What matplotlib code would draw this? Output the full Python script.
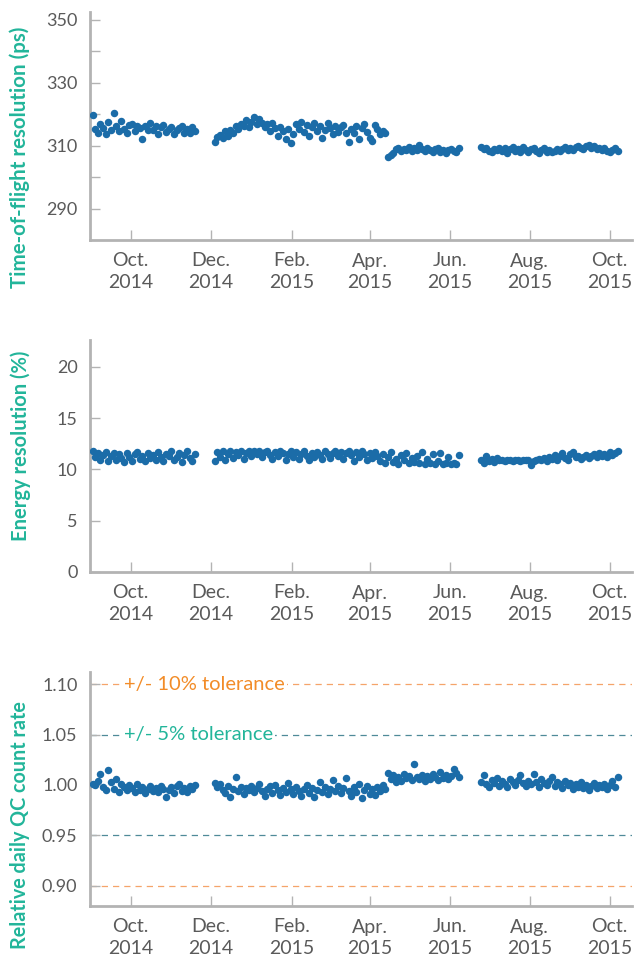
import matplotlib
matplotlib.use("Agg")
import matplotlib.pyplot as plt
import pandas as pd

# ---------------- data ----------------
seg_starts = {"A": "2014-09-02", "B": "2014-12-04", "B2": "2015-04-15", "C": "2015-06-25"}

tof_A = [319.6, 315.2, 314.0, 316.8, 315.5, 313.8, 317.4, 315.0, 320.4, 316.2,
         314.6, 317.8, 315.3, 313.9, 316.5, 316.9, 314.8, 316.2, 315.7, 312.2,
         316.4, 314.9, 317.2, 315.0, 316.1, 313.6, 315.8, 316.7, 314.2, 315.4,
         316.0, 313.8, 314.9, 315.6, 316.4, 314.1, 315.2, 313.9, 315.8, 314.6]
tof_B = [311.2, 312.8, 313.5, 312.4, 314.6, 313.2, 315.1, 314.0, 316.2,
         315.4, 317.0, 316.3, 318.1, 315.8, 317.6, 319.0, 316.9, 318.4, 317.2,
         315.9, 316.8, 314.7, 317.3, 315.6, 313.2, 316.0, 314.8, 312.1, 315.3,
         311.0, 313.6, 316.8, 315.2, 317.6, 314.3, 316.5, 313.0, 315.8, 317.1,
         314.6, 316.2, 312.4, 315.0, 317.3, 315.5, 313.8, 316.4, 314.2, 315.9,
         316.6, 313.9, 311.2, 315.2, 314.0, 316.3, 312.0, 315.6, 317.0, 314.4,
         312.5, 311.5, 316.5, 315.2, 313.6, 314.8, 314.1]
tof_B2 = [306.4, 306.9, 307.6, 308.8, 309.2, 308.4, 309.0, 308.6, 309.6, 308.3,
          309.1, 308.7, 310.2, 308.9, 308.2, 309.4, 308.6, 307.9, 308.8, 309.3,
          308.1, 308.7, 307.8, 308.5, 309.0, 308.3, 307.9, 309.4]
tof_C = [309.6, 308.8, 309.2, 308.4, 307.9, 309.0, 308.6, 309.4, 308.2, 309.1,
         307.8, 308.9, 309.5, 308.3, 309.0, 308.1, 309.6, 308.7, 307.9, 308.8,
         309.3, 308.4, 307.6, 308.7, 309.1, 308.0, 308.6, 307.9, 308.4, 309.0,
         308.2, 308.8, 309.5, 308.5, 309.2, 308.7, 309.6, 310.0, 309.3, 308.9,
         309.8, 310.2, 309.4, 309.9, 308.8, 309.3, 308.7, 309.1, 308.4, 307.9,
         308.6, 309.2, 308.3]

en_A = [11.8, 11.2, 11.6, 10.9, 11.4, 11.7, 10.8, 11.3, 11.6, 10.9,
        11.5, 11.1, 10.7, 11.6, 11.2, 10.8, 11.5, 11.7, 11.0, 11.3,
        10.8, 11.6, 11.1, 11.4, 10.9, 11.7, 11.2, 10.8, 11.5, 11.3,
        11.8, 10.9, 11.2, 11.6, 10.7, 11.4, 11.8, 11.1, 10.8, 11.5]
en_B = [10.8, 11.7, 11.2, 11.8, 10.9, 11.5, 11.8, 11.1, 11.7, 11.4, 11.8, 11.0, 11.6, 11.8, 11.3,
        11.8, 11.5, 11.8, 11.2, 11.7, 11.8, 11.4, 11.0, 11.7, 11.3, 11.8, 11.6, 10.9, 11.5, 11.8, 11.2,
        11.7, 11.0, 11.5, 11.8, 11.3, 10.9, 11.6, 11.2, 11.7, 11.4, 11.0, 11.8, 11.5, 11.1, 11.6, 11.8,
        11.3, 11.7, 11.0, 11.6, 11.8, 11.4, 10.8, 11.7, 11.2, 11.8, 11.5, 10.9, 11.6, 11.1, 11.7, 11.3,
        10.8, 11.5, 10.6, 11.2, 11.7, 10.7, 11.0, 10.5, 11.4, 10.9, 11.6, 10.6, 11.1, 10.7, 11.3, 10.6,
        11.7, 10.5, 11.0, 10.6, 11.5, 10.5, 10.8, 11.6, 10.5, 10.6, 11.2, 10.5, 10.6, 10.5, 11.4]
en_C = [10.9, 10.6, 11.3, 10.8, 11.0, 10.7, 11.1, 10.9, 10.9, 10.8,
        10.9, 10.9, 10.8, 10.9, 10.9, 10.8, 10.9, 10.9, 10.9, 10.4,
        10.8, 10.9, 11.0, 10.9, 11.1, 10.8, 11.2, 11.0, 11.4, 10.9,
        11.3, 11.6, 11.1, 10.9, 11.5, 11.7, 11.2, 11.3, 11.0, 11.2,
        11.4, 11.1, 11.3, 11.5, 11.2, 11.6, 11.3, 11.5, 11.2, 11.7,
        11.4, 11.6, 11.8]

qc_A = [1.001, 1.000, 1.004, 1.011, 0.998, 0.995, 1.015, 1.003, 0.996, 1.006,
        0.993, 1.001, 0.998, 0.995, 1.000, 0.997, 0.993, 1.001, 0.995, 0.998,
        0.992, 0.996, 0.999, 0.994, 0.997, 0.993, 0.999, 0.996, 0.988, 0.995,
        0.998, 0.992, 0.999, 1.001, 0.994, 0.997, 0.993, 0.999, 0.996, 1.000]
qc_B = [1.002, 0.998, 1.001, 0.995, 0.992, 0.999, 0.988, 0.996, 1.008, 0.994, 0.998, 0.991, 0.997, 0.995, 0.999,
        0.993, 0.997, 1.001, 0.994, 0.989, 0.996, 0.999, 0.992, 1.000, 0.995, 0.990, 0.997, 0.993, 1.002, 0.996, 0.991,
        0.998, 0.994, 0.989, 0.996, 1.000, 0.992, 0.997, 0.988, 0.995, 1.003, 0.993, 0.998, 0.991, 0.996, 1.005, 0.994,
        0.999, 0.992, 0.997, 1.007, 0.994, 0.989, 0.998, 0.993, 1.001, 0.987, 0.995, 0.999, 0.991, 0.996, 0.990, 0.998,
        0.994, 1.000, 0.996, 1.012, 1.006, 1.010, 1.003, 1.008, 1.004, 1.011, 1.007, 1.009, 1.005, 1.021, 1.008, 1.006,
        1.010, 1.004, 1.009, 1.006, 1.011, 1.008, 1.005, 1.013, 1.007, 1.010, 1.006, 1.009, 1.016, 1.012, 1.008]
qc_C = [1.003, 1.010, 1.001, 0.998, 1.005, 1.002, 1.007, 0.999, 1.004, 1.001,
        0.998, 1.006, 1.003, 1.000, 1.005, 1.010, 1.002, 0.999, 1.004, 1.001,
        1.011, 1.003, 0.998, 1.006, 1.002, 1.000, 1.004, 1.008, 0.999, 1.003,
        1.001, 0.997, 1.004, 1.000, 1.002, 0.996, 1.001, 0.998, 1.003, 0.997,
        1.000, 0.995, 0.999, 1.002, 0.997, 1.000, 0.998, 1.001, 0.996, 1.000,
        1.004, 0.998, 1.008]

tick_dates = ["2014-10-01", "2014-12-01", "2015-02-01", "2015-04-01",
              "2015-06-01", "2015-08-01", "2015-10-01"]
tick_labels = ["Oct.\n2014", "Dec.\n2014", "Feb.\n2015", "Apr.\n2015",
               "Jun.\n2015", "Aug.\n2015", "Oct.\n2015"]

tof_ticks = [290, 310, 330, 350]
en_ticks = [0, 5, 10, 15, 20]
qc_ticks = [0.90, 0.95, 1.00, 1.05, 1.10]


def dates_for(start, values):
    return pd.date_range(start, periods=len(values), freq="2D")


# ---------------- style ----------------
DOT = "#1b6ca8"
SPINE = "#b3b3b3"
TXT = "#5a5a5a"
TEAL = "#22b59a"
ORANGE = "#f28c28"
FONT = ["Lato", "DejaVu Sans"]

plt.rcParams["font.family"] = FONT

fig = plt.figure(figsize=(6.35, 9.56), dpi=100)
W, H = 635.0, 956.0
left_px, right_px = 90, 632


def make_ax(top_px, bot_px):
    return fig.add_axes([left_px / W, 1 - bot_px / H,
                         (right_px - left_px) / W, (bot_px - top_px) / H])


ax1 = make_ax(12, 240)
ax2 = make_ax(340, 572)
ax3 = make_ax(672, 906)

xmin = pd.Timestamp("2014-08-31")
xmax = pd.Timestamp("2015-10-18")

for ax in (ax1, ax2, ax3):
    ax.set_xlim(xmin, xmax)
    for s in ("top", "right"):
        ax.spines[s].set_visible(False)
    for s in ("left", "bottom"):
        ax.spines[s].set_color(SPINE)
        ax.spines[s].set_linewidth(2.0)
    ax.set_xticks(pd.to_datetime(tick_dates))
    ax.set_xticklabels(tick_labels, fontsize=14, color=TXT, linespacing=1.3)
    ax.tick_params(axis="both", direction="in", color=SPINE, width=1.0,
                   length=7, labelcolor=TXT)
    ax.tick_params(axis="x", pad=9, labelsize=14)
    ax.tick_params(axis="y", pad=9, labelsize=13)
    ax.set_facecolor("none")

ms = 29

# top panel
for start, vals in ((seg_starts["A"], tof_A), (seg_starts["B"], tof_B),
                    (seg_starts["B2"], tof_B2), (seg_starts["C"], tof_C)):
    ax1.scatter(dates_for(start, vals), vals, s=ms, color=DOT, lw=0, zorder=3)
ax1.set_ylim(280, 352.5)
ax1.set_yticks(tof_ticks)
ax1.set_yticks([300, 320, 340], minor=True)
ax1.tick_params(axis="y", which="minor", direction="in", color=SPINE, length=7, width=1.0)

# middle panel
for start, vals in ((seg_starts["A"], en_A), (seg_starts["B"], en_B),
                    (seg_starts["C"], en_C)):
    ax2.scatter(dates_for(start, vals), vals, s=ms, color=DOT, lw=0, zorder=3)
ax2.set_ylim(0, 22.6)
ax2.set_yticks(en_ticks)

# bottom panel
for start, vals in ((seg_starts["A"], qc_A), (seg_starts["B"], qc_B),
                    (seg_starts["C"], qc_C)):
    ax3.scatter(dates_for(start, vals), vals, s=ms, color=DOT, lw=0, zorder=3)
ax3.set_ylim(0.880, 1.112)
ax3.set_yticks(qc_ticks)
ax3.set_yticklabels([f"{v:.2f}" for v in qc_ticks])

for y, c in ((1.10, "#f5a46a"), (0.90, "#f5a46a"), (1.05, "#4f8a98"), (0.95, "#4f8a98")):
    ax3.axhline(y, color=c, lw=0.9, ls=(0, (5, 4)), zorder=1)

ax3.text(0.063, 1.10, "+/- 10% tolerance", transform=ax3.get_yaxis_transform(),
         color=ORANGE, fontsize=14.5, va="center", ha="left", zorder=2,
         bbox=dict(facecolor="white", edgecolor="none", pad=1.5))
ax3.text(0.063, 1.05, "+/- 5% tolerance", transform=ax3.get_yaxis_transform(),
         color=TEAL, fontsize=14.5, va="center", ha="left", zorder=2,
         bbox=dict(facecolor="white", edgecolor="none", pad=1.5))

# y labels
fig.text(20 / W, 1 - 157 / H, "Time-of-flight resolution (ps)", rotation=90,
         color=TEAL, fontsize=14.8, fontweight="bold", ha="center", va="center")
fig.text(21 / W, 1 - 446 / H, "Energy resolution (%)", rotation=90,
         color=TEAL, fontsize=14.5, fontweight="bold", ha="center", va="center")
fig.text(20 / W, 1 - 825 / H, "Relative daily QC count rate", rotation=90,
         color=TEAL, fontsize=14.2, fontweight="bold", ha="center", va="center")

fig.savefig("out.png", dpi=100, facecolor="white")
